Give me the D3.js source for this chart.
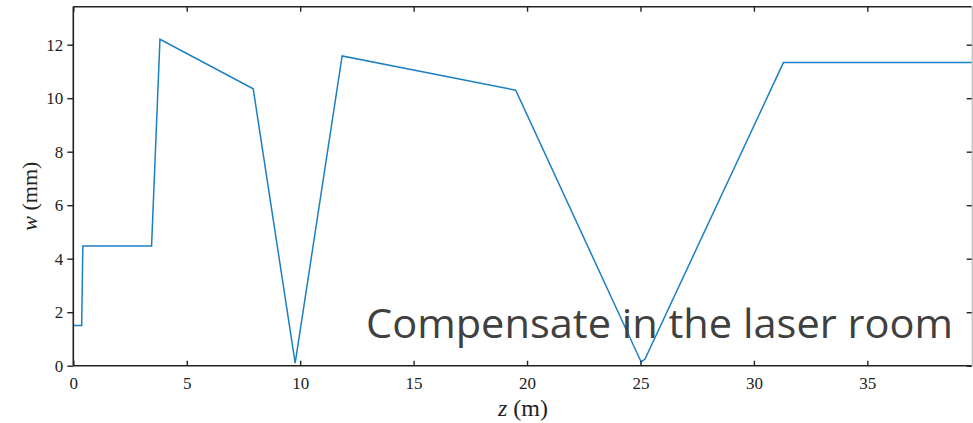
<!DOCTYPE html>
<html>
<head>
<meta charset="utf-8">
<script src="https://cdn.jsdelivr.net/npm/d3@7"></script>
<style>
  html, body { margin: 0; padding: 0; background: #fff; }
  svg { display: block; }
</style>
</head>
<body>
<svg id="chart" width="973" height="423"></svg>
<script>
// Beam width along the transport line
const zValues = [0, 0.37, 0.42, 3.45, 3.82, 7.93, 9.78, 11.85, 19.5, 25.03, 25.2, 31.3, 39.6];
const wValues = [1.5, 1.5, 4.47, 4.47, 12.2, 10.35, 0.1, 11.58, 10.3, 0.14, 0.25, 11.33, 11.33];
const xTicks = [0, 5, 10, 15, 20, 25, 30, 35];
const yTicks = [0, 2, 4, 6, 8, 10, 12];
const annotation = "Compensate in the laser room";

(function () {
const svg = d3.select("#chart");
const margin = { left: 73.3, right: 1.3, top: 6.7, bottom: 57.3 };
const W = 973, H = 423;

const x = d3.scaleLinear().domain([0, 39.6]).range([margin.left, W - margin.right]);
const y = d3.scaleLinear().domain([0, 13.42]).range([H - margin.bottom, margin.top]);

const serif = "'Liberation Serif', 'DejaVu Serif', serif";

// Data line
const data = zValues.map((z, i) => ({ z, w: wValues[i] }));
svg.append("path")
  .datum(data)
  .attr("fill", "none")
  .attr("stroke", "#1b7fc3")
  .attr("stroke-width", 1.5)
  .attr("stroke-linejoin", "miter")
  .attr("d", d3.line().x(d => x(d.z)).y(d => y(d.w)));

// Frame
const frame = svg.append("g");
frame.append("line").attr("x1", x(0)).attr("x2", x(0)).attr("y1", y(13.42)).attr("y2", y(0));
frame.append("line").attr("x1", x(0)).attr("x2", W - margin.right).attr("y1", y(0)).attr("y2", y(0));
frame.append("line").attr("x1", x(0)).attr("x2", W - margin.right).attr("y1", y(13.42)).attr("y2", y(13.42));
frame.selectAll("line").attr("stroke", "#222").attr("stroke-width", 1.6);
svg.append("line")
  .attr("x1", W - margin.right + 0.5).attr("x2", W - margin.right + 0.5)
  .attr("y1", y(13.42)).attr("y2", y(0))
  .attr("stroke", "#aaa").attr("stroke-width", 1);

// Bottom axis: ticks pointing inward
const axBottom = svg.append("g")
  .attr("transform", `translate(0,${y(0)})`)
  .call(d3.axisBottom(x).tickValues(xTicks).tickSizeInner(-5).tickSizeOuter(0).tickPadding(11));
axBottom.select(".domain").remove();
axBottom.selectAll("line").attr("stroke", "#222").attr("stroke-width", 1.4);
axBottom.selectAll("text").attr("font-family", serif).attr("font-size", 17).attr("fill", "#222");

// Top ticks
const axTop = svg.append("g")
  .attr("transform", `translate(0,${y(13.42)})`)
  .call(d3.axisTop(x).tickValues(xTicks).tickSizeInner(-5).tickSizeOuter(0).tickFormat(""));
axTop.select(".domain").remove();
axTop.selectAll("line").attr("stroke", "#222").attr("stroke-width", 1.4);

// Left axis
const axLeft = svg.append("g")
  .attr("transform", `translate(${x(0)},0)`)
  .call(d3.axisLeft(y).tickValues(yTicks).tickSizeInner(6).tickSizeOuter(0).tickPadding(4));
axLeft.select(".domain").remove();
axLeft.selectAll("line").attr("stroke", "#222").attr("stroke-width", 1.4);
axLeft.selectAll("text").attr("font-family", serif).attr("font-size", 17).attr("fill", "#222");

// Right ticks
const axRight = svg.append("g")
  .attr("transform", `translate(${W - margin.right},0)`)
  .call(d3.axisRight(y).tickValues(yTicks).tickSizeInner(-5).tickSizeOuter(0).tickFormat(""));
axRight.select(".domain").remove();
axRight.selectAll("line").attr("stroke", "#222").attr("stroke-width", 1.4);

// Axis titles
const xt = svg.append("text")
  .attr("x", 523)
  .attr("y", 416)
  .attr("text-anchor", "middle")
  .attr("font-family", serif).attr("font-size", 24).attr("fill", "#222");
xt.append("tspan").attr("font-style", "italic").text("z");
xt.append("tspan").text(" (m)");

const yt = svg.append("text")
  .attr("transform", `translate(37,${(y(0) + y(13.42)) / 2 + 10}) rotate(-90)`)
  .attr("text-anchor", "middle")
  .attr("font-family", serif).attr("font-size", 22).attr("fill", "#222");
yt.append("tspan").attr("font-style", "italic").text("w");
yt.append("tspan").text(" (mm)");

// Annotation
svg.append("text")
  .attr("x", 366)
  .attr("y", 338)
  .attr("font-family", "'Open Sans', 'Noto Sans', sans-serif")
  .attr("font-size", 41)
  .attr("fill", "#404040")
  .attr("textLength", 587)
  .attr("lengthAdjust", "spacingAndGlyphs")
  .text(annotation);
})();
</script>
</body>
</html>
